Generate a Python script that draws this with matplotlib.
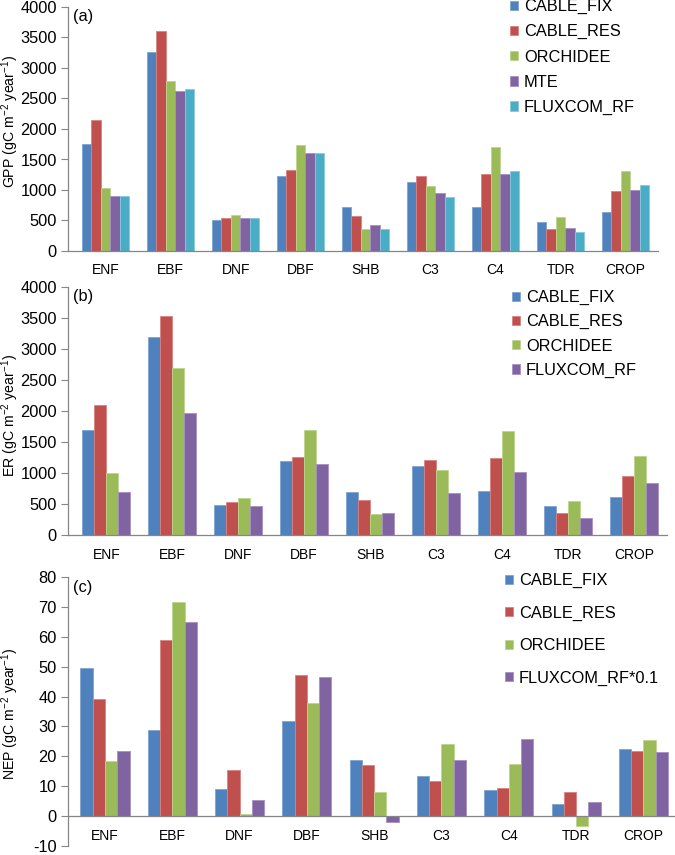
import matplotlib
matplotlib.use("Agg")
import matplotlib.pyplot as plt
from matplotlib.patches import Patch
import numpy as np

plt.rcParams['font.family'] = ['Liberation Sans', 'DejaVu Sans']
plt.rcParams['mathtext.fontset'] = 'custom'
plt.rcParams['mathtext.rm'] = 'Liberation Sans'
plt.rcParams['mathtext.it'] = 'Liberation Sans:italic'

categories = ["ENF", "EBF", "DNF", "DBF", "SHB", "C3", "C4", "TDR", "CROP"]

# Panel (a) GPP
gpp_series = ["CABLE_FIX", "CABLE_RES", "ORCHIDEE", "MTE", "FLUXCOM_RF"]
gpp_cable_fix = [1756, 3255, 509, 1225, 728, 1127, 717, 470, 640]
gpp_cable_res = [2144, 3610, 547, 1324, 574, 1231, 1258, 367, 985]
gpp_orchidee = [1028, 2790, 596, 1745, 356, 1072, 1707, 558, 1318]
gpp_mte = [903, 2615, 536, 1603, 427, 946, 1269, 377, 996]
gpp_fluxcom = [903, 2648, 547, 1603, 356, 881, 1307, 317, 1078]

# Panel (b) ER
er_series = ["CABLE_FIX", "CABLE_RES", "ORCHIDEE", "FLUXCOM_RF"]
er_cable_fix = [1694, 3199, 484, 1194, 699, 1108, 715, 468, 608]
er_cable_res = [2091, 3527, 532, 1258, 559, 1210, 1237, 355, 952]
er_orchidee = [1000, 2694, 597, 1694, 339, 1043, 1683, 554, 1274]
er_fluxcom = [694, 1962, 462, 1145, 349, 683, 1016, 274, 839]

# Panel (c) NEP
nep_series = ["CABLE_FIX", "CABLE_RES", "ORCHIDEE", "FLUXCOM_RF*0.1"]
nep_cable_fix = [49.7, 28.7, 9.0, 31.9, 18.9, 13.5, 8.7, 4.0, 22.3]
nep_cable_res = [39.2, 58.8, 15.3, 47.2, 17.2, 11.6, 9.3, 8.0, 21.9]
nep_orchidee = [18.5, 71.7, 0.8, 38.0, 8.2, 24.0, 17.4, -3.2, 25.4]
nep_fluxcom = [21.8, 65.1, 5.5, 46.4, -2.0, 18.9, 25.9, 4.8, 21.5]

C_BLUE = "#4F81BD"
C_RED = "#C0504D"
C_GREEN = "#9BBB59"
C_PURPLE = "#8064A2"
C_CYAN = "#4BACC6"
EDGE = {C_BLUE: "#7FA3D3", C_RED: "#D98280", C_GREEN: "#BDD68E", C_PURPLE: "#A690C2", C_CYAN: "#86CBDD"}

W, H = 675, 855
fig = plt.figure(figsize=(W / 100, H / 100), dpi=100)

GRAY = "#868686"
FS_TICK = 11.8
FS_X = 11.5
FS_LEG = 11.8
FS_LAB = 10.2


def make_axes(x0, x1, ytop, ybot):
    return fig.add_axes([x0 / W, 1 - ybot / H, (x1 - x0) / W, (ybot - ytop) / H])


def draw_panel(ax, width_px, series, labels, colors, xlim, ylim, yticks, ylabel,
               label_y, tag, leg_x, leg_y, leg_spacing):
    x = np.arange(len(categories))
    n = len(series)
    gw = 0.73
    bw = gw / n
    for i, (vals, c) in enumerate(zip(series, colors)):
        ax.bar(x - gw / 2 + bw * (i + 0.5), vals, width=bw, color=c,
               edgecolor=EDGE[c], linewidth=0.6, zorder=2)
    ax.set_xlim(*xlim)
    ax.set_ylim(*ylim)
    ax.set_yticks(yticks)
    ax.set_yticklabels([str(t) for t in yticks], fontsize=FS_TICK)
    ax.set_xticks(x)
    ax.set_xticklabels(categories, fontsize=FS_X)
    for s in ["top", "right"]:
        ax.spines[s].set_visible(False)
    ax.spines["left"].set_color(GRAY)
    ax.spines["bottom"].set_color(GRAY)
    ax.spines["left"].set_linewidth(0.9)
    ax.spines["bottom"].set_linewidth(0.9)
    ax.spines["bottom"].set_position(("data", 0))
    ax.tick_params(axis="y", direction="out", length=5, color=GRAY, pad=3)
    ax.tick_params(axis="x", length=0, pad=9)
    ax.set_ylabel(ylabel, fontsize=FS_LAB)
    ax.yaxis.set_label_coords((21 - 68) / width_px, label_y)
    ax.text(0.008, 0.99, tag, transform=ax.transAxes, fontsize=FS_TICK,
            ha="left", va="top")
    handles = [Patch(facecolor=c, edgecolor=EDGE[c], linewidth=0.6) for c in colors]
    leg = ax.legend(handles, labels, loc="upper left",
                    bbox_to_anchor=(leg_x / W, 1 - leg_y / H),
                    bbox_transform=fig.transFigure, frameon=False,
                    fontsize=FS_LEG, handlelength=0.5, handleheight=0.5,
                    handletextpad=0.35, borderpad=0, borderaxespad=0,
                    labelspacing=leg_spacing)
    return leg


ax_a = make_axes(68, 658, 7, 251)
draw_panel(ax_a, 590, [gpp_cable_fix, gpp_cable_res, gpp_orchidee, gpp_mte, gpp_fluxcom],
           gpp_series, [C_BLUE, C_RED, C_GREEN, C_PURPLE, C_CYAN],
           (-0.58, 8.5), (0, 4000), list(range(0, 4001, 500)),
           "GPP (gC m$^{-2}$ year$^{-1}$)", 0.53, "(a)", 510, -1, 0.62)

ax_b = make_axes(68, 667, 287, 535)
draw_panel(ax_b, 599, [er_cable_fix, er_cable_res, er_orchidee, er_fluxcom],
           er_series, [C_BLUE, C_RED, C_GREEN, C_PURPLE],
           (-0.58, 8.5), (0, 4000), list(range(0, 4001, 500)),
           "ER (gC m$^{-2}$ year$^{-1}$)", 0.48, "(b)", 512, 290, 0.56)

ax_c = make_axes(68, 675, 577, 846)
draw_panel(ax_c, 607, [nep_cable_fix, nep_cable_res, nep_orchidee, nep_fluxcom],
           nep_series, [C_BLUE, C_RED, C_GREEN, C_PURPLE],
           (-0.55, 8.47), (-10, 80), list(range(-10, 81, 10)),
           "NEP (gC m$^{-2}$ year$^{-1}$)", 0.49, "(c)", 505, 573, 1.06)

fig.savefig("out.png", dpi=100)
